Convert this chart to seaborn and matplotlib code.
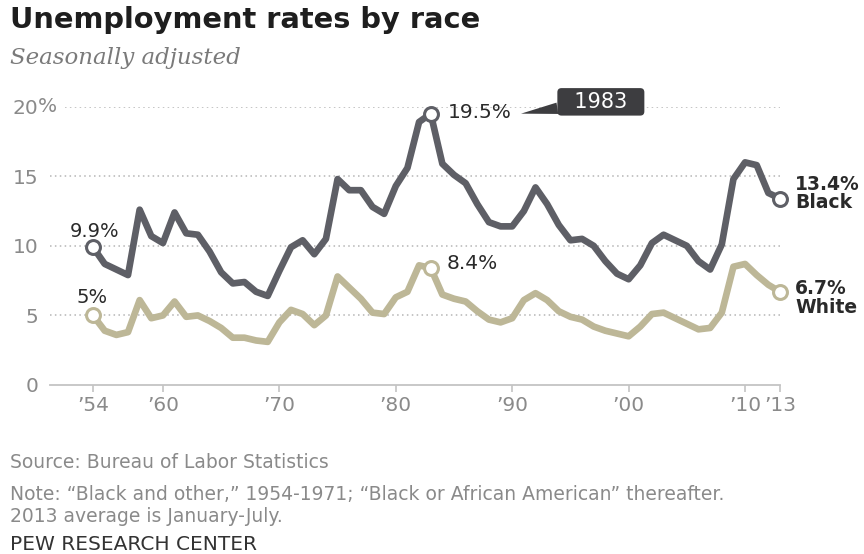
import matplotlib
matplotlib.use("Agg")
import matplotlib.pyplot as plt
import matplotlib.transforms as mtransforms
import seaborn as sns
import pandas as pd

years = list(range(1954, 2014))
black = [9.9, 8.7, 8.3, 7.9, 12.6, 10.7, 10.2, 12.4, 10.9, 10.8,
         9.6, 8.1, 7.3, 7.4, 6.7, 6.4, 8.2, 9.9, 10.4, 9.4,
         10.5, 14.8, 14.0, 14.0, 12.8, 12.3, 14.3, 15.6, 18.9, 19.5,
         15.9, 15.1, 14.5, 13.0, 11.7, 11.4, 11.4, 12.5, 14.2, 13.0,
         11.5, 10.4, 10.5, 10.0, 8.9, 8.0, 7.6, 8.6, 10.2, 10.8,
         10.4, 10.0, 8.9, 8.3, 10.1, 14.8, 16.0, 15.8, 13.8, 13.4]
white = [5.0, 3.9, 3.6, 3.8, 6.1, 4.8, 5.0, 6.0, 4.9, 5.0,
         4.6, 4.1, 3.4, 3.4, 3.2, 3.1, 4.5, 5.4, 5.1, 4.3,
         5.0, 7.8, 7.0, 6.2, 5.2, 5.1, 6.3, 6.7, 8.6, 8.4,
         6.5, 6.2, 6.0, 5.3, 4.7, 4.5, 4.8, 6.1, 6.6, 6.1,
         5.3, 4.9, 4.7, 4.2, 3.9, 3.7, 3.5, 4.2, 5.1, 5.2,
         4.8, 4.4, 4.0, 4.1, 5.2, 8.5, 8.7, 7.9, 7.2, 6.7]
xtick_pos = [1954, 1960, 1970, 1980, 1990, 2000, 2010, 2013]
xtick_lab = ["\u201954", "\u201960", "\u201970", "\u201980", "\u201990", "\u201900", "\u201910", "\u201913"]
ytick_pos = [0, 5, 10, 15, 20]
ytick_lab = ["0", "5", "10", "15", "20"]
series_names = ["Black", "White"]

BLACK_C = "#5e5f66"
WHITE_C = "#bdb797"
TXT = "#2a2a2a"
GRAY = "#8a8a8a"

df = pd.DataFrame({"year": years * 2,
                   "rate": black + white,
                   "race": ["Black"] * len(years) + ["White"] * len(years)})

sns.set_theme(style="white")
plt.rcParams["font.family"] = ["DejaVu Sans"]

W, H = 864, 554
fig = plt.figure(figsize=(W / 100, H / 100), dpi=100)
ax = fig.add_axes([50 / W, 1 - 385 / H, 730 / W, (385 - 106.7) / H])

sns.lineplot(data=df, x="year", y="rate", hue="race", palette=[BLACK_C, WHITE_C],
             linewidth=4.8, ax=ax, legend=False, zorder=3)
for line in ax.lines:
    line.set_clip_on(False)
    line.set_solid_joinstyle("round")

ax.set_xlim(1950.3, 2013)
ax.set_ylim(0, 20)

# gridlines
for v in ytick_pos[1:]:
    xmin = 0.0205 if v == 20 else 0.0
    ax.axhline(v, xmin=xmin, xmax=1, color="#b5b5b5", lw=1.1, ls=(0, (1, 2.2)), zorder=1)

for s in ["top", "right", "left"]:
    ax.spines[s].set_visible(False)
ax.spines["bottom"].set_color("#c4c4c4")
ax.spines["bottom"].set_linewidth(1.3)

ax.set_xticks(xtick_pos)
ax.set_xticklabels(xtick_lab)
ax.set_yticks(ytick_pos)
ax.set_yticklabels(ytick_lab)
ax.tick_params(axis="x", direction="out", length=5, width=1.2, color="#c4c4c4",
               labelsize=14.5, labelcolor=GRAY, pad=3, bottom=True)
ax.tick_params(axis="y", length=0, labelsize=14.5, labelcolor=GRAY, pad=8.5)
ax.set_xlabel("")
ax.set_ylabel("")

# percent sign on top tick
ax.annotate("%", xy=(0, 20), xycoords=("axes fraction", "data"),
            xytext=(-8.5, 0), textcoords="offset points",
            ha="left", va="center", fontsize=14.5, color=GRAY)

# markers
idx_first, idx_last = 0, len(years) - 1
idx_peak = black.index(max(black))
for vals, col in [(black, BLACK_C), (white, WHITE_C)]:
    for i in [idx_first, idx_peak, idx_last]:
        ax.plot(years[i], vals[i], marker="o", ms=10, mfc="white", mec=col,
                mew=2.2, zorder=5, clip_on=False)

def lab(txt, x, y, dx, dy, ha="left", weight="normal", fs=14):
    ax.annotate(txt, xy=(x, y), xytext=(dx, dy), textcoords="offset points",
                ha=ha, va="center", fontsize=fs, color=TXT, fontweight=weight)

lab(f"{black[0]:g}%", years[0], black[0], 1, 11.5, ha="center")
lab(f"{white[0]:g}%", years[0], white[0], -1, 13, ha="center")
lab(f"{black[idx_peak]:g}%", years[idx_peak], black[idx_peak], 12, 0.5, fs=14.5)
lab(f"{white[idx_peak]:g}%", years[idx_peak], white[idx_peak], 11.5, 3, fs=14.5)
lab(f"{black[-1]:g}%", years[-1], black[-1], 11, 10, weight="bold", fs=13.5)
lab(series_names[0], years[-1], black[-1], 11, -3, weight="bold", fs=13.5)
lab(f"{white[-1]:g}%", years[-1], white[-1], 11, 2.5, weight="bold", fs=13.5)
lab(series_names[1], years[-1], white[-1], 11, -11, weight="bold", fs=13.5)

# 1983 callout
tip = mtransforms.offset_copy(ax.transData, fig=fig, x=65, y=0, units="points")
ax.annotate("  " + str(years[idx_peak]) + "  ", xy=(years[idx_peak], black[idx_peak]),
            xycoords=tip, xytext=(57.5, 8.5), textcoords="offset points",
            ha="center", va="center", fontsize=15, color="white",
            bbox=dict(boxstyle="round,pad=0.18,rounding_size=0.2", fc="#3d3d40", ec="none"),
            arrowprops=dict(arrowstyle="wedge,tail_width=0.55,shrink_factor=0.5",
                            fc="#3d3d40", ec="none", shrinkA=0, shrinkB=0),
            annotation_clip=False)

# titles and footer
fig.text(10 / W, 1 - 20 / H, "Unemployment rates by race", fontsize=20.8,
         fontweight="bold", color="#1e1e1e", ha="left", va="center")
fig.text(10 / W, 1 - 58 / H, "Seasonally adjusted", fontsize=16.5, style="italic",
         family=["DejaVu Serif"], color="#7a7a7a", ha="left", va="center")
fig.text(10 / W, 1 - 462 / H, "Source: Bureau of Labor Statistics", fontsize=13.5,
         color=GRAY, ha="left", va="center")
fig.text(10 / W, 1 - 495 / H,
         "Note: \u201cBlack and other,\u201d 1954-1971; \u201cBlack or African American\u201d thereafter.",
         fontsize=13.5, color=GRAY, ha="left", va="center")
fig.text(10 / W, 1 - 517 / H, "2013 average is January-July.", fontsize=13.5,
         color=GRAY, ha="left", va="center")
fig.text(10 / W, 1 - 544 / H, "PEW RESEARCH CENTER", fontsize=14.5,
         color="#333333", ha="left", va="center")

fig.savefig("out.png", dpi=100)
